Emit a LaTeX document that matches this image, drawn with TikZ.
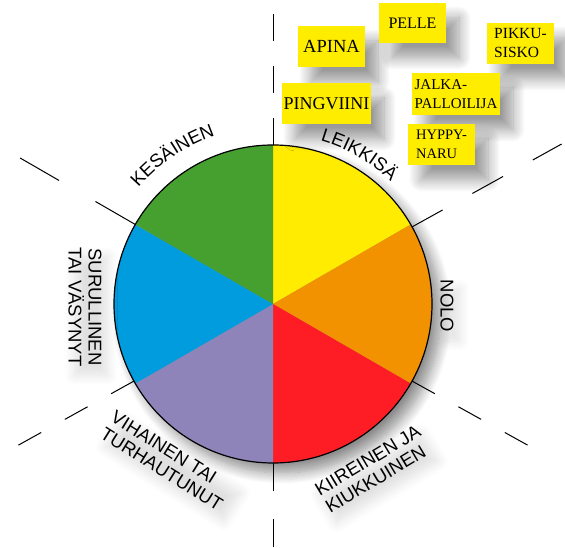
\documentclass[tikz,border=0pt]{standalone}
\usepackage{fontspec}
\setmainfont{Liberation Serif}
\newfontfamily\moodfont{Liberation Sans}
\usetikzlibrary{decorations.text,shadows.blur}
\definecolor{moodyellow}{HTML}{FFEC00}
\definecolor{moodorange}{HTML}{F39200}
\definecolor{moodred}{HTML}{FF1D25}
\definecolor{moodpurple}{HTML}{8E84B9}
\definecolor{moodblue}{HTML}{009CDE}
\definecolor{moodgreen}{HTML}{45A02F}
\definecolor{noteyellow}{HTML}{FFED00}
\newcommand{\moodsize}{\moodfont\fontsize{18.5}{20}\selectfont}

\begin{document}
\begin{tikzpicture}[x=1pt, y=1pt,
    note/.style={fill=noteyellow, inner sep=0pt, align=left,
        blur shadow={shadow xshift=13pt, shadow yshift=-15pt, shadow blur radius=12pt, shadow blur steps=12, shadow opacity=40}},
    mood/.style={font=\moodsize, inner sep=0pt, align=left,
        blur shadow={shadow xshift=6pt, shadow yshift=-9pt, shadow blur radius=10pt, shadow blur steps=10, shadow opacity=12}},
    divider/.style={line width=1pt}]

    \useasboundingbox (0,0) rectangle (565,548);
    \coordinate (c) at (273,244);

    \begin{scope}[shift={(c)}]
        % shadow of the wheel
        \path[blur shadow={shadow xshift=9pt, shadow yshift=-10pt, shadow blur radius=11pt, shadow blur steps=12, shadow opacity=45}] (0,0) circle[radius=159];

        % sectors
        \foreach \a/\b/\col in {30/90/moodyellow, -30/30/moodorange, -90/-30/moodred,
                                210/270/moodpurple, 150/210/moodblue, 90/150/moodgreen}
            \fill[\col] (0,0) -- (\a:159) arc[start angle=\a, end angle=\b, radius=159] -- cycle;
        \draw[line width=1.2pt] (0,0) circle[radius=159];

        % dividers
        \foreach \ang/\len/\on/\off in {90/150/27/25, 270/90/28/28, 29/171/35/34,
                                        -29/136/26/27, 209/137/26/27, 150/133/46/42}
            \draw[divider, dash pattern=on \on pt off \off pt] (\ang:159) -- (\ang:159+\len);

        % curved labels
        \path[decorate, decoration={text along path, text align=center,
            text={|\moodsize|LEIKKISÄ}}] (80:170) arc[start angle=80, end angle=40, radius=170];
        \path[decorate, decoration={text along path, text align=center,
            text={|\moodsize|KESÄINEN}}] (144:178) arc[start angle=144, end angle=104, radius=178];
    \end{scope}

    % straight labels
    \node[mood, rotate=-90] (nolo) at (447,242) {NOLO};
    \node[mood, rotate=-90, align=center] (surullinen) at (85,241) {SURULLINEN\\TAI VÄSYNYT};
    \node[mood, rotate=31] (kiireinen) at (373,79) {KIIREINEN JA\\KIUKKUINEN};
    \node[mood, rotate=-32] (vihainen) at (167,87) {VIHAINEN TAI\\TURHAUTUNUT};

    % sticky notes
    \node[note, minimum width=67pt, minimum height=41pt, font=\fontsize{18.5}{19}\selectfont] (apina) at (331.5,501.5) {APINA};
    \node[note, minimum width=67pt, minimum height=40pt, font=\fontsize{16}{19}\selectfont] (pelle) at (412.5,525) {PELLE};
    \node[note, minimum width=67pt, minimum height=41pt, font=\fontsize{15.5}{19}\selectfont] (pikkusisko) at (520.5,504.5) {PIKKU-\\SISKO};
    \node[note, minimum width=89pt, minimum height=41pt, font=\fontsize{18}{19}\selectfont] (pingviini) at (326.5,444.5) {PINGVIINI};
    \node[note, minimum width=88pt, minimum height=42pt, font=\fontsize{15}{19}\selectfont] (jalkapallo) at (456,454) {JALKA-\\PALLOILIJA};
    \node[note, minimum width=67pt, minimum height=41pt, font=\fontsize{14.5}{19}\selectfont] (hyppynaru) at (441.5,403.5) {HYPPY-\\NARU};
\end{tikzpicture}
\end{document}
